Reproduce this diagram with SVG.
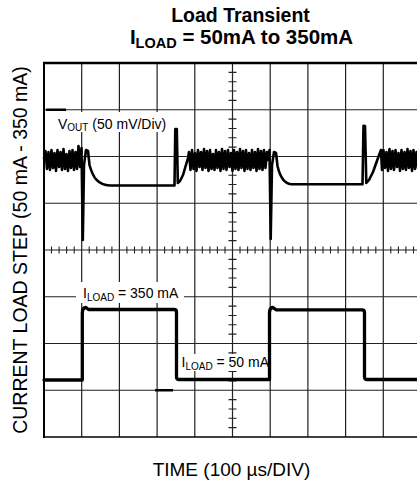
<svg xmlns="http://www.w3.org/2000/svg" width="417" height="481" viewBox="0 0 417 481">
<style>
  text { font-family: "Liberation Sans", Arial, sans-serif; fill: #000; }
  .grid { stroke: #222; stroke-width: 1.2; fill: none; }
  .frame { stroke: #000; fill: none; }
  .tick { stroke: #222; stroke-width: 1.1; fill: none; }
  .trace { stroke: #000; fill: none; stroke-linejoin: round; stroke-linecap: round; }
  .mask { fill: #fff; stroke: none; }
  .ann { font-size: 14px; }
</style>
<rect width="417" height="481" fill="#fff"/>

<g id="title" font-weight="bold" text-anchor="middle">
  <text x="240.5" y="21.5" font-size="19.5">Load Transient</text>
  <text x="241.5" y="44" font-size="20.5">I<tspan font-size="14.5" dy="3.5">LOAD</tspan><tspan dy="-3.5"> = 50mA to 350mA</tspan></text>
</g>

<g id="grid">
  <path class="grid" d="M81.7 63V437 M119.4 63V437 M157.1 63V437 M194.8 63V437 M270.2 63V437 M307.9 63V437 M345.6 63V437 M383.3 63V437"/>
  <path class="grid" d="M44 109.75H417 M44 156.5H417 M44 203.25H417 M44 296.75H417 M44 343.5H417 M44 390.25H417"/>
  <path class="grid" d="M232.5 63V437 M44 250H417"/>
  <path class="tick" d="M51.5 246.5v7M59.1 246.5v7M66.6 246.5v7M74.2 246.5v7M89.2 246.5v7M96.8 246.5v7M104.3 246.5v7M111.9 246.5v7M126.9 246.5v7M134.5 246.5v7M142 246.5v7M149.6 246.5v7M164.6 246.5v7M172.2 246.5v7M179.7 246.5v7M187.3 246.5v7M202.3 246.5v7M209.9 246.5v7M217.4 246.5v7M225 246.5v7M240 246.5v7M247.6 246.5v7M255.1 246.5v7M262.7 246.5v7M277.7 246.5v7M285.3 246.5v7M292.8 246.5v7M300.4 246.5v7M315.4 246.5v7M323 246.5v7M330.5 246.5v7M338.1 246.5v7M353.1 246.5v7M360.7 246.5v7M368.2 246.5v7M375.8 246.5v7M390.8 246.5v7M398.4 246.5v7M405.9 246.5v7M413.5 246.5v7"/>
  <path class="tick" d="M228.5 72.35h8M228.5 81.7h8M228.5 91.05h8M228.5 100.4h8M228.5 119.1h8M228.5 128.45h8M228.5 137.8h8M228.5 147.15h8M228.5 165.85h8M228.5 175.2h8M228.5 184.55h8M228.5 193.9h8M228.5 212.6h8M228.5 221.95h8M228.5 231.3h8M228.5 240.65h8M228.5 259.35h8M228.5 268.7h8M228.5 278.05h8M228.5 287.4h8M228.5 306.1h8M228.5 315.45h8M228.5 324.8h8M228.5 334.15h8M228.5 352.85h8M228.5 362.2h8M228.5 371.55h8M228.5 380.9h8M228.5 399.6h8M228.5 408.95h8M228.5 418.3h8M228.5 427.65h8"/>
  <path class="frame" stroke-width="2.4" d="M43 63H417"/>
  <path class="frame" stroke-width="2" d="M44 62V438"/>
  <path class="frame" stroke-width="1.6" d="M43 437H417"/>
  <path class="frame" stroke-width="2.6" d="M46 109.75H66 M155 390.25H173"/>
</g>

<g id="labels">
  <rect class="mask" x="55" y="112" width="115" height="20"/>
  <rect class="mask" x="76" y="282" width="108" height="21"/>
  <rect class="mask" x="180" y="354" width="86" height="17"/>
  <text class="ann" x="58" y="129">V<tspan font-size="10" dy="2">OUT</tspan><tspan dy="-2"> (50 mV/Div)</tspan></text>
  <text class="ann" x="83" y="298">I<tspan font-size="10" dy="3">LOAD</tspan><tspan dy="-3"> = 350 mA</tspan></text>
  <text class="ann" x="181.5" y="366.5">I<tspan font-size="10" dy="3">LOAD</tspan><tspan dy="-3"> = 50 mA</tspan></text>
</g>

<g id="axis-titles">
  <text x="231.5" y="476" font-size="19" text-anchor="middle">TIME (100 µs/DIV)</text>
  <text transform="translate(27 250) rotate(-90)" font-size="19.5" text-anchor="middle">CURRENT LOAD STEP (50 mA - 350 mA)</text>
</g>

<g id="traces">
  <path id="vout" class="trace" stroke-width="2.6" d="M44 158 L45.5 151 L47 169 L48.5 152 L50 170 L51.5 150 L53 168 L54.5 153 L56 171 L57.5 150 L59 167 L60.5 152 L62 170 L63.5 149 L65 169 L66.5 154 L68 171 L69.5 151 L71 168 L72.5 150 L74 170 L75.5 152 L77 169 L78.5 146 L80 167 L81.5 148 L82.8 240 L84 165 L86 150 L88 151 L89.5 165 C93 178 98 185 110 185.5 L174.5 185.5 L175.3 129 L176.8 129 L177.8 183 L180 181 L183 175 L188 158 L189 152 L190.5 170 L192 150 L193.5 169 L195 153 L196.5 171 L198 150 L199.5 167 L201 152 L202.5 170 L204 149 L205.5 168 L207 151 L208.5 171 L210 150 L211.5 169 L213 154 L214.5 170 L216 150 L217.5 168 L219 152 L220.5 171 L222 149 L223.5 169 L225 151 L226.5 170 L228 150 L229.5 167 L231 153 L232.5 171 L234 150 L235.5 169 L237 152 L238.5 170 L240 149 L241.5 168 L243 151 L244.5 171 L246 150 L247.5 169 L249 153 L250.5 170 L252 150 L253.5 168 L255 152 L256.5 171 L258 149 L259.5 169 L261 151 L262.5 170 L264 150 L265.5 168 L267 152 L268.5 160 L269.5 150 L270.7 239 L272 165 L274 152 L276 153 L277.5 166 C280 177 284 184 292 184.3 L362.5 184.3 L363.5 125.7 L365 126 L366.3 183 L369 180 L373 172 L378 158 L381 150 L382 170 L383.5 150 L385 168 L386.5 152 L388 171 L389.5 149 L391 169 L392.5 151 L394 170 L395.5 150 L397 167 L398.5 153 L400 171 L401.5 150 L403 169 L404.5 152 L406 170 L407.5 149 L409 168 L410.5 151 L412 171 L413.5 150 L415 169 L416.5 152 L418 168"/>
  <path id="iload" class="trace" stroke-width="3.3" d="M44 380 L82.3 380 L82.3 313 Q82.5 307.5 86 307.5 L88.5 309.5 L91 309.5 L174 309.5 Q176.5 309.5 176.5 312 L176.5 377 Q176.5 379.5 179 379.5 L269.5 379.5 L269.5 312 Q270 307.5 273 307.5 L276 309.8 L362 309.8 Q364.5 309.8 364.5 312.5 L364.5 377 Q364.5 379.5 367 379.5 L418 379.5"/>
</g>
</svg>
